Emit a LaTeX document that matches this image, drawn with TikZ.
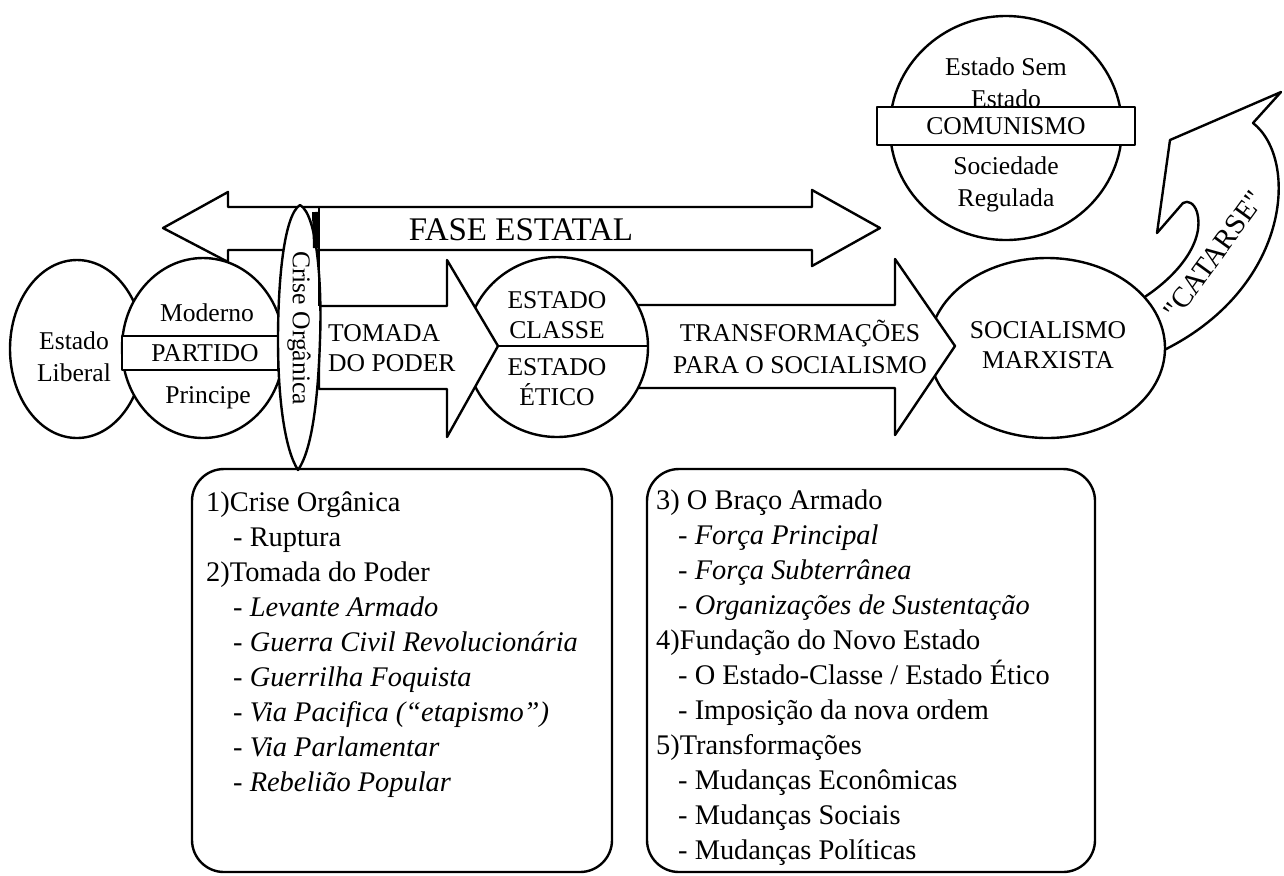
\documentclass[tikz,border=0pt]{standalone}
\usepackage{fontspec}
\setmainfont{Liberation Serif}[Ligatures=TeXOff]
\usepackage{tikz}
\usetikzlibrary{positioning}

\begin{document}
\begin{tikzpicture}[x=0.5pt,y=-0.5pt, line width=1.2pt, line join=round,
  blk/.style={draw,fill=white},
  lbl/.style={font=\fontsize{12.8}{16}\selectfont, align=center, inner sep=0pt},
  tight/.style={font=\fontsize{12.8}{15}\selectfont},
  item/.style={font=\fontsize{14.2}{16.5}\selectfont, anchor=base west, inner sep=0pt}]
  \useasboundingbox (0,0) rectangle (1284,875);

  % fase estatal
  \draw[blk] (163,228) -- (228,192) -- (228,207) -- (812,207) -- (812,190) -- (880,228)
    -- (812,266) -- (812,250) -- (228,250) -- (228,262) -- cycle;
  \node[lbl, font=\fontsize{16.5}{18}\selectfont] (fase) at (521,230) {FASE ESTATAL};

  % catarse
  \draw[blk] (1140,300) .. controls (1180,275) and (1205,240) .. (1197,212)
    .. controls (1194,203) and (1188,200) .. (1183,203) -- (1157,233)
    -- (1170,140) -- (1281,92) -- (1253,123) .. controls (1300,160) and (1290,290) .. (1160,352) -- cycle;
  \node[lbl, rotate=54, font=\fontsize{14.5}{16}\selectfont] (catarse) at (1214,255) {"CATARSE"};

  % comunismo
  \draw[blk] (1006,128) ellipse [x radius=116, y radius=112];
  \node[lbl] (semestado) at (1006,83) {Estado Sem\\Estado};
  \draw[blk] (877,107) rectangle (1135,145);
  \node[lbl] (comunismo) at (1006,126) {COMUNISMO};
  \node[lbl] (regulada) at (1006,184) {Sociedade\\Regulada};

  % socialismo marxista
  \draw[blk] (1047,348) ellipse [x radius=118, y radius=90];
  \node[lbl, tight] (socialismo) at (1048,345) {SOCIALISMO\\MARXISTA};

  % transformacoes
  \draw[blk] (600,305) -- (895,305) -- (895,259) -- (955,346) -- (895,435) -- (895,388) -- (600,388) -- cycle;
  \node[lbl] (transf) at (800,347) {TRANSFORMAÇÕES\\PARA O SOCIALISMO};

  % estado classe / estado etico
  \draw[blk] (557,347) ellipse [x radius=91, y radius=90];
  \draw (480,346) -- (648,346);
  \node[lbl, tight] (classe) at (557,315) {ESTADO\\CLASSE};
  \node[lbl, tight] (etico) at (557,382) {ESTADO\\ÉTICO};

  % tomada do poder
  \draw[blk] (319,306) -- (447,306) -- (447,260) -- (498,346) -- (447,437) -- (447,389) -- (319,389) -- cycle;
  \node[lbl, tight, align=left, anchor=west] (tomada) at (327,348) {TOMADA\\DO PODER};

  % estado liberal, partido
  \draw[blk] (77,349) ellipse [x radius=67, y radius=89];
  \node[lbl] (liberal) at (74,357) {Estado\\Liberal};
  \draw[blk] (203,348) ellipse [x radius=81, y radius=90];
  \draw[blk] (122,336) rectangle (278,370);
  \node[lbl] (moderno) at (207,313) {Moderno};
  \node[lbl] (partido) at (205,353) {PARTIDO};
  \node[lbl] (principe) at (208,398) {Principe};

  % crise organica
  \draw[blk] (300,205) .. controls (318,215) and (322,290) .. (320,340)
    .. controls (318,400) and (312,450) .. (298,470)
    .. controls (285,450) and (278,400) .. (278,340)
    .. controls (278,280) and (284,215) .. (300,205) -- cycle;
  \node[lbl, rotate=-90] (crise) at (299,328) {Crise Orgânica};
  \draw (319,207) -- (319,306);
  \draw[line width=3pt] (315,212) -- (316,248);

  % caixas
  \draw[rounded corners=16pt] (192,469) rectangle (612,872);
  \draw[rounded corners=16pt] (647,469) rectangle (1095,872);

  \foreach \x/\txt [count=\i] in {205/{1)Crise Orgânica}, 232/{- Ruptura}, 205/{2)Tomada do Poder},
      232/{\itshape - Levante Armado}, 232/{\itshape - Guerra Civil Revolucionária},
      232/{\itshape - Guerrilha Foquista}, 232/{\itshape - Via Pacifica (“etapismo”)},
      232/{\itshape - Via Parlamentar}, 232/{\itshape - Rebelião Popular}}
    \node[item] (esq\i) at (\x,476+35*\i) {\txt};

  \foreach \x/\txt [count=\i] in {655/{3) O Braço Armado}, 677/{\itshape - Força Principal},
      677/{\itshape - Força Subterrânea}, 677/{\itshape - Organizações de Sustentação},
      655/{4)Fundação do Novo Estado}, 677/{- O Estado-Classe / Estado Ético},
      677/{- Imposição da nova ordem}, 655/{5)Transformações}, 677/{- Mudanças Econômicas},
      677/{- Mudanças Sociais}, 677/{- Mudanças Políticas}}
    \node[item] (dir\i) at (\x,474+35*\i) {\txt};

\end{tikzpicture}
\end{document}
